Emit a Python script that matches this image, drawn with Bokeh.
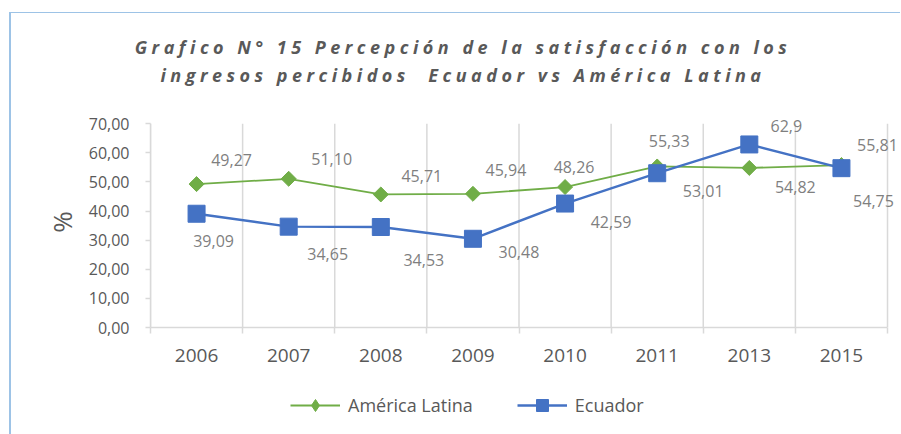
import numpy as np
from bokeh.plotting import figure
from bokeh.models import (ColumnDataSource, Range1d, FixedTicker, LinearAxis, LabelSet,
                          Legend, LegendItem, Div, CustomJSTickFormatter)
from bokeh.layouts import column
from bokeh.core.properties import value
from bokeh.embed import file_html
from bokeh.resources import INLINE

# ---------------- data ----------------
years = ["2006", "2007", "2008", "2009", "2010", "2011", "2013", "2015"]
america_latina = [49.27, 51.10, 45.71, 45.94, 48.26, 55.33, 54.82, 55.81]
ecuador = [39.09, 34.65, 34.53, 30.48, 42.59, 53.01, 62.9, 54.75]
y_ticks = [0, 10, 20, 30, 40, 50, 60, 70]
title_lines = ["Grafico N° 15 Percepción de la satisfacción con los",
               "ingresos percibidos  Ecuador vs América Latina"]
series_names = ["América Latina", "Ecuador"]

# label placement (screen px, dx right / dy down) - styling only
al_dx = [35, 43, 41, 33, 9, 12, 46, 36]
al_dy = [-24, -20, -18, -24, -20, -25, 19, -20]
ec_dx = [17, 39, 43, 46, 46, 46, 37, 32]
ec_dy = [27, 27, 33, 13, 18, 18, -18, 33]

GREEN = "#70AD47"
BLUE = "#4472C4"
GRID = "#D9D9D9"
TXT = "#595959"
LBL = "#7F7F7F"
FONT = "Open Sans"

n = len(years)
xs = list(range(n))
src = ColumnDataSource(dict(
    x=xs, al=america_latina, ec=ecuador,
    al_text=[f"{v:.2f}".replace(".", ",") for v in america_latina],
    ec_text=[f"{v:g}".replace(".", ",") for v in ecuador],
    al_dx=al_dx, al_dy=[-d for d in al_dy],
    ec_dx=ec_dx, ec_dy=[-d for d in ec_dy],
))
bounds = [i - 0.5 for i in range(n + 1)]
grid_src = ColumnDataSource(dict(x=bounds, y0=[y_ticks[0]] * len(bounds),
                                 y1=[y_ticks[-1]] * len(bounds)))

# extra room in the frame (right/top) so that data labels are not clipped
x_pad = 0.141
y_top = y_ticks[-1] + 2.5

p = figure(width=900, height=292, output_backend="svg", toolbar_location=None,
           x_range=Range1d(-0.5, n - 0.5 + x_pad), y_range=Range1d(y_ticks[0], y_top),
           min_border_left=150, min_border_right=0, min_border_top=24, min_border_bottom=57)
p.outline_line_color = None
p.background_fill_color = None
p.border_fill_color = None
p.xgrid.grid_line_color = None
p.ygrid.grid_line_color = None

# vertical category-boundary grid lines
p.segment(x0="x", y0="y0", x1="x", y1="y1", source=grid_src,
          line_color=GRID, line_width=1.5)

# boundary ticks axis (default below axis)
xa = p.xaxis[0]
xa.ticker = FixedTicker(ticks=bounds)
xa.bounds = (bounds[0], bounds[-1])
xa.formatter = CustomJSTickFormatter(code="return ''")
xa.major_label_text_font_size = "0px"
xa.major_label_standoff = 0
xa.axis_line_color = GRID
xa.axis_line_width = 1.5
xa.major_tick_line_color = GRID
xa.major_tick_line_width = 1.5
xa.major_tick_out = 6
xa.major_tick_in = 0
xa.minor_tick_line_color = None

# category label axis
xl = LinearAxis(ticker=FixedTicker(ticks=xs),
                major_label_overrides={i: y for i, y in zip(xs, years)})
xl.bounds = (bounds[0], bounds[-1])
xl.axis_line_color = None
xl.major_tick_line_color = None
xl.minor_tick_line_color = None
xl.major_tick_out = 0
xl.major_tick_in = 0
xl.major_label_standoff = 15
xl.major_label_text_font = FONT
xl.major_label_text_font_size = "19px"
xl.major_label_text_color = TXT
p.add_layout(xl, "below")

ya = p.yaxis[0]
ya.ticker = FixedTicker(ticks=y_ticks)
ya.bounds = (y_ticks[0], y_ticks[-1])
ya.major_label_overrides = {t: f"{t:.2f}".replace(".", ",") for t in y_ticks}
ya.axis_line_color = GRID
ya.axis_line_width = 1.5
ya.major_tick_line_color = GRID
ya.major_tick_line_width = 1.5
ya.major_tick_out = 5
ya.major_tick_in = 0
ya.minor_tick_line_color = None
ya.major_label_standoff = 16
ya.major_label_text_font = FONT
ya.major_label_text_font_size = "16px"
ya.major_label_text_color = TXT
ya.axis_label = "%"
ya.axis_label_text_font = FONT
ya.axis_label_text_font_size = "26px"
ya.axis_label_text_font_style = "normal"
ya.axis_label_text_color = TXT
ya.axis_label_standoff = 6

# series
p.line("x", "al", source=src, line_color=GREEN, line_width=1.8)
p.scatter("x", "al", source=src, marker="square", angle=np.pi / 4, size=10.6, color=GREEN)
p.line("x", "ec", source=src, line_color=BLUE, line_width=2.4)
p.scatter("x", "ec", source=src, marker="square", size=17, color=BLUE)

for col_y, col_t, col_dx, col_dy in [("al", "al_text", "al_dx", "al_dy"),
                                     ("ec", "ec_text", "ec_dx", "ec_dy")]:
    p.add_layout(LabelSet(x="x", y=col_y, text=col_t, x_offset=col_dx, y_offset=col_dy,
                          source=src, text_align="center", text_baseline="middle",
                          text_font=value(FONT), text_font_size="16px", text_color=LBL))

# ---------------- legend strip ----------------
lg = figure(width=900, height=50, output_backend="svg", toolbar_location=None,
            x_range=Range1d(0, 1), y_range=Range1d(0, 1),
            x_axis_location=None, y_axis_location=None, min_border=0)
lg.outline_line_color = None
lg.background_fill_color = None
lg.border_fill_color = None
lg.grid.grid_line_color = None
# same series; their values lie outside this strip's range, only the legend shows
al_line = lg.line("x", "al", source=src, line_color=GREEN, line_width=1.8)
al_mk = lg.scatter("x", "al", source=src, marker="diamond", size=12, color=GREEN)
ec_line = lg.line("x", "ec", source=src, line_color=BLUE, line_width=2.4)
ec_mk = lg.scatter("x", "ec", source=src, marker="square", size=17, color=BLUE)

legend = Legend(items=[LegendItem(label=series_names[0], renderers=[al_line, al_mk]),
                       LegendItem(label=series_names[1], renderers=[ec_line, ec_mk])],
                orientation="horizontal", location=(140, 14),
                glyph_width=50, glyph_height=30, label_standoff=8, spacing=44,
                padding=0, margin=0, border_line_color=None, background_fill_alpha=0,
                label_text_font=FONT, label_text_font_size="18px", label_text_color=TXT)
lg.add_layout(legend, "center")

title_html = (
    f'<div style="font-family:\'{FONT}\'; font-style:italic; font-weight:bold; font-size:18px;'
    f' letter-spacing:4.5px; color:{TXT}; line-height:28px; text-align:center; white-space:pre;'
    f' padding-top:18px; position:relative; top:15px; padding-left:34px;'
    f' box-sizing:border-box; width:892px;">'
    + "\n".join(title_lines) + "</div>"
)
title_div = Div(text=title_html, width=892, height=92, margin=0)

layout = column(title_div, p, lg, spacing=0,
                styles={"box-shadow": "inset 9px 12px 0 0 #ffffff, inset 11px 13px 0 0 #9DC3E6"})

open("out.html", "w").write(file_html(layout, INLINE))
